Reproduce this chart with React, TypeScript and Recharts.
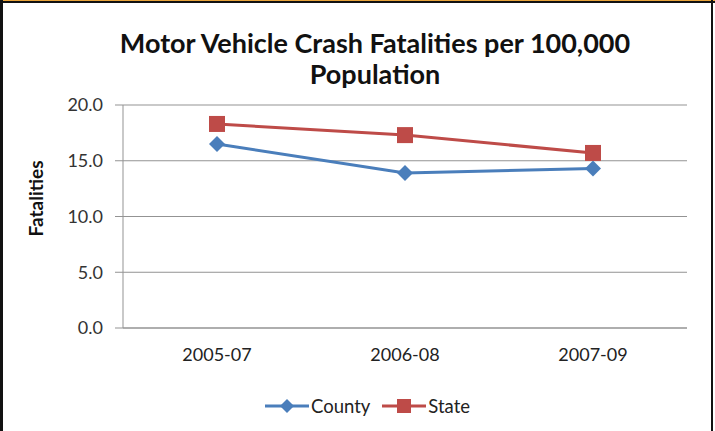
import React from "react";
import {
  CartesianGrid,
  Legend,
  Line,
  LineChart,
  XAxis,
  YAxis,
} from "recharts";

const periods = ["2005-07", "2006-08", "2007-09"];
const countyRates = [16.5, 13.9, 14.3];
const stateRates = [18.3, 17.3, 15.7];
const yTicks = [0, 5, 10, 15, 20];
const edgeTicks = [0, 1, 2, 3];

const BLUE = "#4A7EBB";
const RED = "#BE4B48";
const GRID = "#939393";
const FONT = "Lato, 'Open Sans', sans-serif";

const data = periods.map((p, i) => ({
  period: p,
  county: countyRates[i],
  state: stateRates[i],
}));

function Diamond({ cx, cy, fill = BLUE, r = 8 }: any) {
  if (cx == null || cy == null) return null;
  return (
    <path
      d={`M${cx},${cy - r} L${cx + r},${cy} L${cx},${cy + r} L${cx - r},${cy} Z`}
      fill={fill}
    />
  );
}

function Square({ cx, cy, fill = RED, s = 8 }: any) {
  if (cx == null || cy == null) return null;
  return <rect x={cx - s} y={cy - s} width={s * 2} height={s * 2} fill={fill} />;
}

function YLabel({ viewBox }: any) {
  const x = 35;
  const y = viewBox.y + viewBox.height / 2 - 18;
  return (
    <text
      x={x}
      y={y}
      transform={`rotate(-90 ${x} ${y})`}
      textAnchor="middle"
      dominantBaseline="central"
      fontFamily={FONT}
      fontWeight={700}
      fontSize={19}
      fill="#111"
    >
      Fatalities
    </text>
  );
}

function LegendBox() {
  const items = [
    { name: "County", color: BLUE, marker: "diamond" },
    { name: "State", color: RED, marker: "square" },
  ];
  return (
    <div style={{ display: "flex", justifyContent: "center", gap: 12 }}>
      {items.map((it) => (
        <div key={it.name} style={{ display: "flex", alignItems: "center" }}>
          <svg width={44} height={20}>
            <line x1={0} y1={10} x2={44} y2={10} stroke={it.color} strokeWidth={3} />
            {it.marker === "diamond" ? (
              <Diamond cx={22} cy={10} r={7} />
            ) : (
              <Square cx={22} cy={10} s={7} />
            )}
          </svg>
          <span style={{ fontFamily: FONT, fontSize: 18.5, color: "#222", marginLeft: 2 }}>
            {it.name}
          </span>
        </div>
      ))}
    </div>
  );
}

export default function App() {
  return (
    <div
      style={{
        position: "absolute",
        left: 0,
        top: 0,
        width: 715,
        height: 431,
        background: "#fff",
        overflow: "hidden",
      }}
    >
      <div style={{ position: "absolute", left: 0, top: 0, width: 715, height: 1, background: "#E8A33A" }} />
      <div style={{ position: "absolute", left: 0, top: 1, width: 715, height: 2, background: "#111" }} />
      <div style={{ position: "absolute", left: 0, top: 0, width: 3, height: 431, background: "#111" }} />
      <div style={{ position: "absolute", left: 711, top: 0, width: 2, height: 431, background: "#111" }} />

      <div
        style={{
          position: "absolute",
          top: 27,
          left: 0,
          width: 750,
          textAlign: "center",
          fontFamily: FONT,
          fontWeight: 700,
          fontSize: 27,
          lineHeight: "31px",
          color: "#111",
        }}
      >
        Motor Vehicle Crash Fatalities per 100,000
        <br />
        Population
      </div>

      <LineChart
        width={715}
        height={431}
        data={data}
        margin={{ top: 105, right: 28, left: 63, bottom: 51 }}
      >
        <CartesianGrid vertical={false} stroke={GRID} strokeWidth={1} />
        <XAxis
          xAxisId="edges"
          type="number"
          domain={[0, 3]}
          ticks={edgeTicks}
          tick={false}
          height={0}
          axisLine={false}
          tickLine={{ stroke: GRID }}
          tickSize={7}
        />
        <XAxis
          dataKey="period"
          scale="band"
          height={30}
          axisLine={{ stroke: GRID }}
          tickLine={false}
          tickMargin={14}
          tick={{ fill: "#222", fontSize: 18, fontFamily: FONT }}
        />
        <YAxis
          width={60}
          domain={[0, 20]}
          ticks={yTicks}
          tickFormatter={(v: number) => v.toFixed(1)}
          axisLine={{ stroke: GRID }}
          tickLine={{ stroke: GRID }}
          tickSize={8}
          tickMargin={12}
          tick={{ fill: "#333", fontSize: 18, fontFamily: FONT }}
          label={<YLabel />}
        />
        <Legend
          content={() => <LegendBox />}
          wrapperStyle={{ top: 395, left: 0, width: 735 }}
        />
        <Line
          dataKey="county"
          stroke={BLUE}
          strokeWidth={3}
          dot={(p: any) => <Diamond key={p.index} cx={p.cx} cy={p.cy} />}
          activeDot={false}
          isAnimationActive={false}
        />
        <Line
          dataKey="state"
          stroke={RED}
          strokeWidth={3}
          dot={(p: any) => <Square key={p.index} cx={p.cx} cy={p.cy} />}
          activeDot={false}
          isAnimationActive={false}
        />
      </LineChart>
    </div>
  );
}
